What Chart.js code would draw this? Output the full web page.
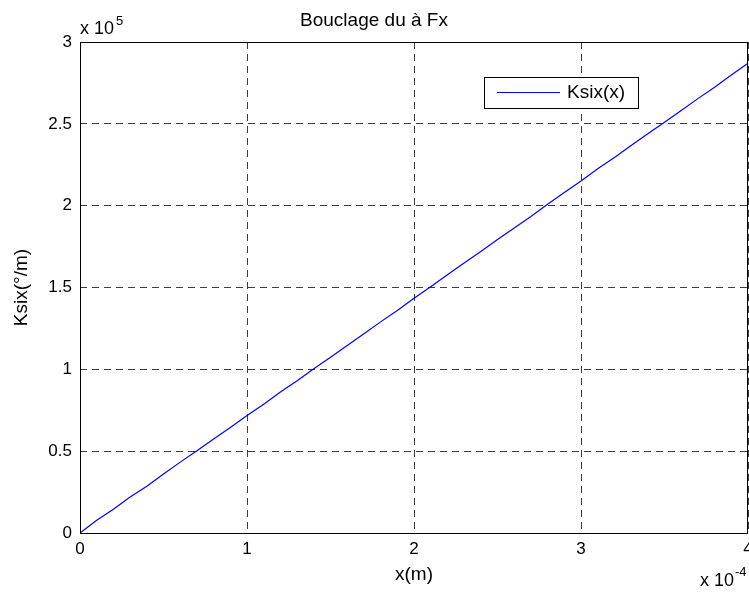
<!DOCTYPE html>
<html>
<head>
<meta charset="utf-8">
<script src="https://cdn.jsdelivr.net/npm/chart.js@4"></script>
<style>
html, body { margin: 0; padding: 0; background: #fff; overflow: hidden; }
#wrap { width: 760px; height: 592px; }
</style>
</head>
<body>
<div id="wrap"><canvas id="myChart" width="760" height="592"></canvas></div>
<script>
// x in units of 1e-4 m, Ksix in units of 1e5
const xValues = [0, 0.1, 0.2, 0.3, 0.4, 0.5, 0.6, 0.7, 0.8, 0.9,
    1.0, 1.1, 1.2, 1.3, 1.4, 1.5, 1.6, 1.7, 1.8, 1.9,
    2.0, 2.1, 2.2, 2.3, 2.4, 2.5, 2.6, 2.7, 2.8, 2.9,
    3.0, 3.1, 3.2, 3.3, 3.4, 3.5, 3.6, 3.7, 3.8, 3.9, 4.0];
const ksixValues = [0, 0.078, 0.145, 0.220, 0.286, 0.360, 0.433, 0.503, 0.574, 0.645,
    0.718, 0.787, 0.862, 0.930, 1.003, 1.074, 1.146, 1.218, 1.290, 1.360,
    1.434, 1.505, 1.578, 1.650, 1.720, 1.793, 1.864, 1.934, 2.008, 2.080,
    2.151, 2.225, 2.294, 2.367, 2.440, 2.510, 2.582, 2.654, 2.724, 2.798, 2.870];
const xTickLabels = ['0', '1', '2', '3', '4'];
const yTickLabels = ['0', '0.5', '1', '1.5', '2', '2.5', '3'];

const points = xValues.map((x, i) => ({x: x, y: ksixValues[i]}));

const font = 'Arial, "Liberation Sans", Helvetica, sans-serif';

// box, legend, axis labels and exponents, MATLAB style
const decorations = {
    id: 'decorations',
    afterDraw(chart) {
        const ctx = chart.ctx;
        const a = chart.chartArea;
        ctx.save();
        // axes box
        ctx.strokeStyle = '#000';
        ctx.lineWidth = 1;
        ctx.strokeRect(Math.round(a.left) + 0.5, Math.round(a.top) + 0.5,
            Math.round(a.right - a.left) - 1, Math.round(a.bottom - a.top));

        // legend
        ctx.fillStyle = '#fff';
        ctx.fillRect(484.5, 77.5, 154, 31);
        ctx.strokeRect(484.5, 77.5, 154, 31);
        ctx.strokeStyle = '#0000ff';
        ctx.beginPath();
        ctx.moveTo(497, 92.5);
        ctx.lineTo(560, 92.5);
        ctx.stroke();
        ctx.fillStyle = '#000';
        ctx.font = '19px ' + font;
        ctx.textBaseline = 'middle';
        ctx.textAlign = 'left';
        ctx.fillText(chart.data.datasets[0].label, 567, 93);

        // axis labels
        ctx.textAlign = 'center';
        ctx.fillText('x(m)', (a.left + a.right) / 2, 575);
        ctx.save();
        ctx.translate(22, (a.top + a.bottom) / 2);
        ctx.rotate(-Math.PI / 2);
        ctx.fillText('Ksix(°/m)', 0, 0);
        ctx.restore();

        // exponents
        ctx.textAlign = 'left';
        ctx.textBaseline = 'alphabetic';
        ctx.font = '18px ' + font;
        ctx.fillText('x 10', 80, 34);
        let w = ctx.measureText('x 10').width;
        ctx.font = '13px ' + font;
        ctx.fillText('5', 80 + w + 2, 25);

        ctx.font = '18px ' + font;
        ctx.fillText('x 10', 700, 586);
        w = ctx.measureText('x 10').width;
        ctx.font = '13px ' + font;
        ctx.fillText('-4', 700 + w + 1, 576);
        ctx.restore();
    }
};

const ctx = document.getElementById('myChart').getContext('2d');
const chart = new Chart(ctx, {
    type: 'line',
    data: {
        datasets: [{
            label: 'Ksix(x)',
            data: points,
            borderColor: '#0000ff',
            borderWidth: 1.2,
            pointRadius: 0,
            fill: false,
            tension: 0
        }]
    },
    options: {
        responsive: false,
        animation: false,
        devicePixelRatio: 1,
        layout: {
            padding: {left: 0, right: 12, top: 0, bottom: 0}
        },
        plugins: {
            legend: {display: false},
            tooltip: {enabled: false},
            title: {
                display: true,
                text: 'Bouclage du à Fx',
                color: '#000',
                font: {family: font, size: 19, weight: 'normal', lineHeight: 1.2},
                padding: {top: 9, bottom: 10.2}
            }
        },
        scales: {
            x: {
                type: 'linear',
                min: 0,
                max: 4,
                afterFit: function(scale) { scale.height = 59; },
                border: {display: false, dash: [7, 5]},
                grid: {
                    color: '#3c3c3c',
                    lineWidth: 1,
                    drawTicks: false
                },
                ticks: {
                    stepSize: 1,
                    padding: 6,
                    color: '#000',
                    maxRotation: 0,
                    font: {family: font, size: 17},
                    callback: function(value) {
                        return xTickLabels[Math.round(value)];
                    }
                }
            },
            y: {
                type: 'linear',
                min: 0,
                max: 3,
                afterFit: function(scale) { scale.width = 80; },
                border: {display: false, dash: [7, 5]},
                grid: {
                    color: '#3c3c3c',
                    lineWidth: 1,
                    drawTicks: false
                },
                ticks: {
                    stepSize: 0.5,
                    padding: 8,
                    color: '#000',
                    font: {family: font, size: 17},
                    callback: function(value) {
                        return yTickLabels[Math.round(value * 2)];
                    }
                }
            }
        }
    },
    plugins: [decorations]
});
</script>
</body>
</html>
